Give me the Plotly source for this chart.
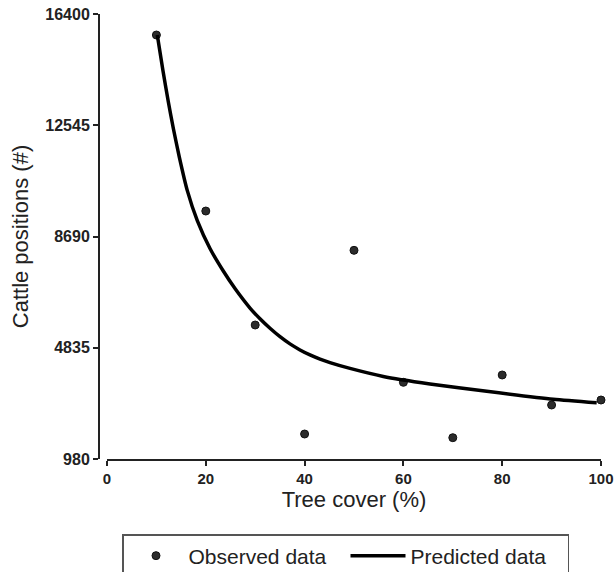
import plotly.graph_objects as go

# Observed data
tree_cover = [10, 20, 30, 40, 50, 60, 70, 80, 90, 100]
cattle_obs = [15672, 9573, 5623, 1846, 8211, 3637, 1718, 3891, 2851, 3024]

# Predicted curve
pred_x = [10.18, 11.34, 12.41, 13.42, 14.64, 16.26, 18.28, 20.85, 23.54, 25.91, 28.95, 30.97,
          33.0, 35.02, 37.04, 39.07, 41.09, 43.12, 45.14, 49.19, 55.93, 65.38, 76.86, 90.34, 99.13]
pred_y = [15672, 14424, 13360, 12442, 11444, 10280, 9241, 8274, 7494, 6888, 6212, 5838,
          5509, 5218, 4968, 4760, 4587, 4442, 4320, 4119, 3842, 3582, 3326, 3049, 2927]

y_ticks = [980, 4835, 8690, 12545, 16400]
x_ticks = [0, 20, 40, 60, 80, 100]

fig = go.Figure()
fig.add_trace(go.Scatter(
    x=tree_cover, y=cattle_obs, mode="markers", name="Observed data",
    marker=dict(size=8, color="#2b2b2b", line=dict(color="#111", width=1)),
    cliponaxis=False,
))
fig.add_trace(go.Scatter(
    x=pred_x, y=pred_y, mode="lines", name="Predicted data",
    line=dict(color="#000", width=3.5, shape="spline", smoothing=0.6),
    cliponaxis=False,
))

W, H = 615, 572
ml, mr, mt, mb = 99, 14, 14, 113
pw = W - ml - mr
fig.update_layout(
    width=W, height=H,
    margin=dict(l=ml, r=mr, t=mt, b=mb),
    paper_bgcolor="white", plot_bgcolor="white",
    font=dict(family="Liberation Sans, Arial, sans-serif", color="#222"),
    xaxis=dict(
        domain=[8 / pw, 1], range=[0, 100], automargin=False,
        tickvals=x_ticks, ticktext=[str(v) for v in x_ticks],
        ticks="outside", ticklen=5, tickwidth=2, tickcolor="#222",
        showline=True, linewidth=2, linecolor="#222",
        showgrid=False, zeroline=False, ticklabeloverflow="allow",
        tickfont=dict(size=15, family="Liberation Sans, Arial, sans-serif", weight="bold"),
        title=dict(text="Tree cover (%)", font=dict(size=22), standoff=6),
    ),
    yaxis=dict(
        range=[980, 16400], anchor="free", position=0, automargin=False,
        tickvals=y_ticks, ticktext=[str(v) for v in y_ticks],
        ticks="outside", ticklen=5, tickwidth=2, tickcolor="#222",
        showline=True, linewidth=2, linecolor="#222",
        showgrid=False, zeroline=False, ticklabeloverflow="allow",
        tickfont=dict(size=16, family="Liberation Sans, Arial, sans-serif", weight="bold"),
        title=dict(text="Cattle positions (#)", font=dict(size=22), standoff=10),
    ),
    legend=dict(
        orientation="h", xref="container", yref="container",
        x=122 / W, xanchor="left", y=1 - 534 / H, yanchor="top",
        bordercolor="#555", borderwidth=1.5, bgcolor="white",
        font=dict(size=21, color="#222"), itemwidth=55,
        entrywidth=152,
    ),
    showlegend=True,
)

fig.write_html(
    "out.html",
    config={"displayModeBar": False},
    post_script="document.body.style.margin='0';document.body.style.overflow='hidden';",
)
